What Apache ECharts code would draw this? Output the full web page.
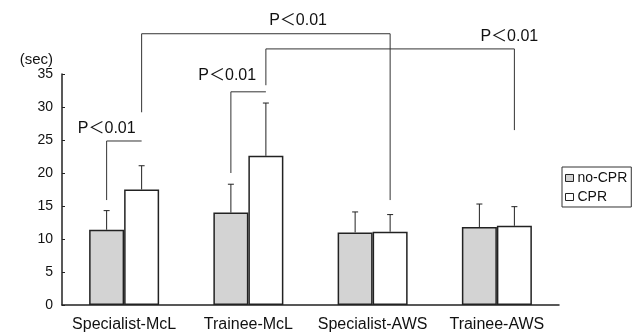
<!DOCTYPE html>
<html>
<head>
<meta charset="utf-8">
<script src="https://cdn.jsdelivr.net/npm/echarts@6/dist/echarts.min.js"></script>
<style>
html,body{margin:0;padding:0;background:#fff;}
#c{width:638px;height:334px;}
</style>
</head>
<body>
<div id="c"></div>
<script>
// ---- data ----
const categories = ['Specialist-McL', 'Trainee-McL', 'Specialist-AWS', 'Trainee-AWS'];
const seriesNames = ['no-CPR', 'CPR'];
const noCprMean = [11.4, 14.0, 11.0, 11.8];
const noCprSD = [2.9, 4.3, 3.1, 3.5];
const cprMean = [17.5, 22.6, 11.1, 12.0];
const cprSD = [3.6, 8.0, 2.6, 2.9];
const yTicks = [0, 5, 10, 15, 20, 25, 30, 35];
const yUnit = '(sec)';

// significance brackets (category index, bar side -1=no-CPR / +1=CPR, heights in sec)
const bracketStartCat = [0, 0, 1, 1];
const bracketStartSide = [-1, 1, -1, 1];
const bracketStartY = [15.9, 29.2, 20.0, 33.3];
const bracketEndCat = [0, 2, 1, 3];
const bracketEndSide = [1, 1, 1, 1];
const bracketEndY = [null, 15.9, null, 26.5];
const bracketTopY = [24.85, 41.1, 32.3, 38.8];
const pLabels = ['P＜0.01', 'P＜0.01', 'P＜0.01', 'P＜0.01'];
const pLabelCat = [-0.14, 1.4, 0.83, 3.1];
const pLabelY = [26.7, 43.1, 34.7, 40.6];

const BAR_W = 35;
const FONT = "'Liberation Sans', Arial, 'Noto Sans CJK JP', sans-serif";

const chart = echarts.init(document.getElementById('c'), null, {renderer: 'canvas'});

function errRender(means, sds, side) {
  return function (params, api) {
    const i = params.dataIndex;
    const p0 = api.coord([i, means[i]]);
    const p1 = api.coord([i, means[i] + sds[i]]);
    const x = p0[0] + side * BAR_W / 2;
    return {
      type: 'group',
      children: [
        {type: 'line', shape: {x1: x, y1: p0[1], x2: x, y2: p1[1]}, style: {stroke: '#222', lineWidth: 1}},
        {type: 'line', shape: {x1: x - 3, y1: p1[1], x2: x + 3, y2: p1[1]}, style: {stroke: '#222', lineWidth: 1}}
      ]
    };
  };
}

function bracketRender(params, api) {
  const i = params.dataIndex;
  const xs = api.coord([bracketStartCat[i], bracketTopY[i]])[0] + bracketStartSide[i] * BAR_W / 2;
  const xe = api.coord([bracketEndCat[i], bracketTopY[i]])[0] + bracketEndSide[i] * BAR_W / 2;
  const yt = api.coord([0, bracketTopY[i]])[1];
  const pts = [];
  pts.push([xs, api.coord([0, bracketStartY[i]])[1]]);
  pts.push([xs, yt]);
  pts.push([xe, yt]);
  if (bracketEndY[i] !== null) pts.push([xe, api.coord([0, bracketEndY[i]])[1]]);
  const bandW = api.size([1, 0])[0];
  const lx = api.coord([0, pLabelY[i]])[0] + pLabelCat[i] * bandW;
  const ly = api.coord([0, pLabelY[i]])[1];
  return {
    type: 'group',
    children: [
      {type: 'polyline', shape: {points: pts}, style: {stroke: '#333', lineWidth: 1, fill: null}},
      {type: 'text', x: lx, y: ly, style: {text: pLabels[i], fill: '#111', font: '16px ' + FONT, align: 'center', verticalAlign: 'middle'}}
    ]
  };
}

chart.setOption({
  animation: false,
  backgroundColor: '#fff',
  textStyle: {fontFamily: FONT},
  grid: {left: 62, right: 79, top: 74, bottom: 29, containLabel: false},
  legend: {
    orient: 'vertical',
    left: 562, top: 167,
    data: seriesNames,
    icon: 'rect',
    itemWidth: 8, itemHeight: 7, itemGap: 5,
    padding: [4, 4, 3, 3],
    borderColor: '#333', borderWidth: 1,
    textStyle: {fontSize: 14, color: '#111', fontFamily: FONT, padding: [0, 0, 0, -1]},
    itemStyle: {borderWidth: 1, borderColor: '#222'}
  },
  xAxis: {
    type: 'category',
    data: categories,
    axisLine: {lineStyle: {color: '#222', width: 1.5}},
    axisTick: {inside: true, length: 4, lineStyle: {color: '#222'}},
    axisLabel: {fontSize: 16, color: '#111', margin: 12, interval: 0}
  },
  yAxis: {
    type: 'value',
    min: yTicks[0], max: yTicks[yTicks.length - 1], interval: yTicks[1] - yTicks[0],
    name: yUnit,
    nameLocation: 'end',
    nameGap: 6,
    nameTextStyle: {fontSize: 15, color: '#111', align: 'right', padding: [0, 9, 0, 0]},
    axisLine: {show: true, lineStyle: {color: '#222', width: 1.5}},
    axisTick: {show: true, inside: true, length: 3, lineStyle: {color: '#222'}},
    axisLabel: {fontSize: 14, color: '#111', margin: 9},
    splitLine: {show: false}
  },
  series: [
    {
      name: seriesNames[0], type: 'bar', data: noCprMean, barWidth: BAR_W, barGap: '0%',
      itemStyle: {color: '#d3d3d3', borderColor: '#222', borderWidth: 1.5}
    },
    {
      name: seriesNames[1], type: 'bar', data: cprMean, barWidth: BAR_W, barGap: '0%',
      itemStyle: {color: '#ffffff', borderColor: '#222', borderWidth: 1.5}
    },
    {
      type: 'custom', renderItem: errRender(noCprMean, noCprSD, -1), clip: false, z: 5,
      data: noCprMean.map((v, i) => [i, v + noCprSD[i]])
    },
    {
      type: 'custom', renderItem: errRender(cprMean, cprSD, 1), clip: false, z: 5,
      data: cprMean.map((v, i) => [i, v + cprSD[i]])
    },
    {
      type: 'custom', renderItem: bracketRender, clip: false, z: 6,
      data: bracketTopY.map((v, i) => [bracketStartCat[i], Math.min(v, 35)])
    }
  ]
});
</script>
</body>
</html>
